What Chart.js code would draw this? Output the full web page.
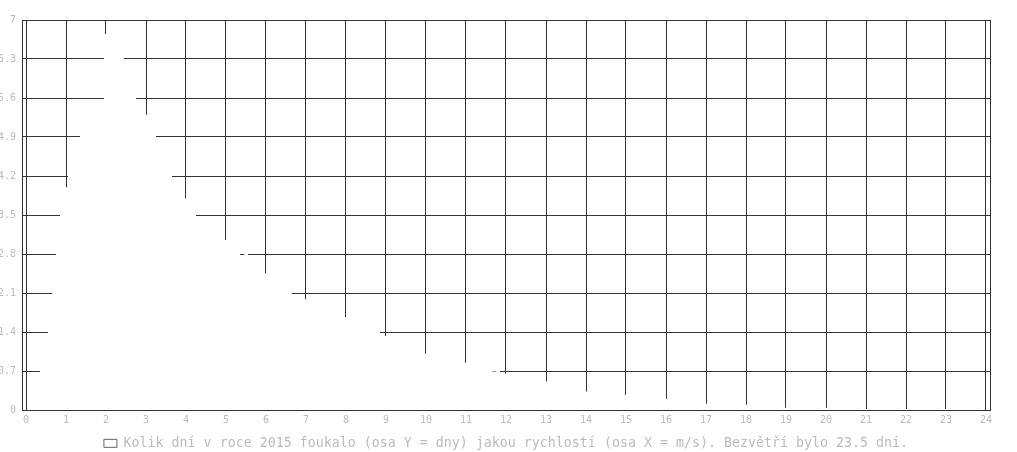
<!DOCTYPE html>
<html lang="cs">
<head>
<meta charset="utf-8">
<title>Vítr 2015</title>
<script src="https://cdn.jsdelivr.net/npm/chart.js@4/dist/chart.umd.min.js"></script>
<style>
  html, body { margin: 0; padding: 0; background: #fff; }
  canvas { display: block; }
</style>
</head>
<body>
<canvas id="graf-vitr" width="1017" height="452"></canvas>
<script>
// Popisek řady (legenda)
const popisek = 'Kolik dní v roce 2015 foukalo (osa Y = dny) jakou rychlostí (osa X = m/s). Bezvětří bylo 23.5 dní.';

// Jedna hodnota = 0.1 m/s
const krokRychlosti = 0.1;

// Počet dní pro rychlosti 0.0 .. 24.0 m/s (jeden řádek = 1 m/s)
const dny = [
  0, 0.1, 0.25, 0.5, 0.9, 1.2, 1.7, 2.4, 3.1, 3.7,
  4.0, 4.3, 4.5, 4.7, 5.0, 5.1, 5.2, 5.3, 5.4, 5.5,
  6.75, 6.6, 6.5, 6.45, 6.35, 6.2, 6.0, 5.7, 5.55, 5.4,
  5.3, 5.15, 5.0, 4.8, 4.6, 4.45, 4.25, 4.1, 4.0, 3.9,
  3.8, 3.7, 3.55, 3.45, 3.4, 3.35, 3.3, 3.2, 3.15, 3.1,
  3.05, 2.95, 2.9, 2.85, 2.75, 2.82, 2.75, 2.7, 2.6, 2.5,
  2.45, 2.4, 2.35, 2.3, 2.2, 2.15, 2.12, 2.05, 2.03, 2.0,
  1.99, 1.95, 1.9, 1.87, 1.83, 1.8, 1.77, 1.74, 1.71, 1.69,
  1.67, 1.62, 1.58, 1.55, 1.52, 1.49, 1.46, 1.43, 1.41, 1.38,
  1.33, 1.3, 1.27, 1.24, 1.2, 1.17, 1.13, 1.1, 1.07, 1.04,
  1.01, 0.99, 0.97, 0.95, 0.94, 0.92, 0.91, 0.89, 0.88, 0.86,
  0.85, 0.83, 0.81, 0.78, 0.76, 0.74, 0.71, 0.69, 0.71, 0.68,
  0.65, 0.64, 0.62, 0.61, 0.59, 0.58, 0.56, 0.55, 0.53, 0.52,
  0.51, 0.49, 0.47, 0.45, 0.43, 0.42, 0.4, 0.38, 0.36, 0.34,
  0.33, 0.32, 0.32, 0.31, 0.3, 0.3, 0.29, 0.29, 0.28, 0.28,
  0.27, 0.27, 0.26, 0.25, 0.24, 0.24, 0.23, 0.22, 0.21, 0.2,
  0.2, 0.19, 0.18, 0.17, 0.16, 0.15, 0.14, 0.13, 0.12, 0.12,
  0.11, 0.11, 0.1, 0.1, 0.1, 0.1, 0.1, 0.1, 0.1, 0.1,
  0.095, 0.09, 0.08, 0.08, 0.07, 0.07, 0.06, 0.06, 0.05, 0.05,
  0.04, 0.04, 0.04, 0.04, 0.04, 0.04, 0.04, 0.04, 0.04, 0.04,
  0.04, 0.03, 0.03, 0.03, 0.03, 0.03, 0.03, 0.03, 0.03, 0.03,
  0.02, 0.02, 0.02, 0.02, 0.02, 0.02, 0.02, 0.02, 0.02, 0.02,
  0.02, 0.02, 0.02, 0.02, 0.02, 0.02, 0.02, 0.02, 0.02, 0.02,
  0.02, 0.02, 0.02, 0.02, 0.02, 0.02, 0.02, 0.02, 0.02, 0.02,
  0
];

// Popisky os
const popiskyX = [0, 1, 2, 3, 4, 5, 6, 7, 8, 9, 10, 11, 12, 13, 14, 15, 16, 17, 18, 19, 20, 21, 22, 23, 24];
const popiskyY = [0, 0.7, 1.4, 2.1, 2.8, 3.5, 4.2, 4.9, 5.6, 6.3, 7];

const pismo = '"DejaVu Sans Mono", "Liberation Mono", monospace';
const barvaMrizky = '#333';
const barvaTextu = '#bbb';

// body grafu
const body = dny.map((d, i) => ({ x: Math.round(i * krokRychlosti * 10) / 10, y: d }));

// rámeček kolem plochy grafu
const ramecek = {
  id: 'ramecek',
  afterDraw(chart) {
    const { ctx, chartArea: a } = chart;
    const l = Math.round(a.left) + 0.5, t = Math.round(a.top) + 0.5;
    const r = Math.round(a.right) + 0.5, b = Math.round(a.bottom) + 0.5;
    ctx.save();
    ctx.strokeStyle = barvaMrizky;
    ctx.lineWidth = 1;
    ctx.strokeRect(l, t, r - l, b - t);
    ctx.restore();
  }
};

const ctx = document.getElementById('graf-vitr').getContext('2d');
new Chart(ctx, {
  type: 'line',
  data: {
    datasets: [{
      label: popisek,
      data: body,
      stepped: 'middle',
      fill: 'origin',
      backgroundColor: '#fff',
      borderColor: '#666',
      borderWidth: 1,
      segment: { borderColor: () => 'rgba(0,0,0,0)' }, // čára není vidět, jen bílá plocha
      pointRadius: 0
    }]
  },
  options: {
    responsive: false,
    animation: false,
    layout: { padding: { top: 20, right: 27, left: 0, bottom: -8 } },
    scales: {
      x: {
        type: 'linear',
        min: popiskyX[0] - 0.1,
        max: popiskyX[popiskyX.length - 1] + 0.1,
        afterBuildTicks: (s) => { s.ticks = popiskyX.map(v => ({ value: v })); },
        afterFit: (s) => { s.height = 25; },
        grid: { color: barvaMrizky, drawTicks: false },
        border: { display: false },
        ticks: { color: barvaTextu, font: { family: pismo, size: 10 }, padding: 4, maxRotation: 0, autoSkip: false }
      },
      y: {
        min: popiskyY[0],
        max: popiskyY[popiskyY.length - 1],
        afterBuildTicks: (s) => { s.ticks = popiskyY.map(v => ({ value: v })); },
        afterFit: (s) => { s.width = 22; },
        grid: { color: barvaMrizky, drawTicks: false },
        border: { display: false },
        ticks: {
          color: barvaTextu,
          font: { family: pismo, size: 10 },
          padding: 6,
          callback: (v) => String(Math.round(v * 10) / 10)
        }
      }
    },
    plugins: {
      legend: {
        position: 'bottom',
        fullSize: false,
        labels: {
          color: barvaTextu,
          font: { family: pismo, size: 13.3 },
          boxWidth: 13,
          boxHeight: 8,
          padding: 1.7
        }
      },
      tooltip: { enabled: false }
    }
  },
  plugins: [ramecek]
});
</script>
</body>
</html>
